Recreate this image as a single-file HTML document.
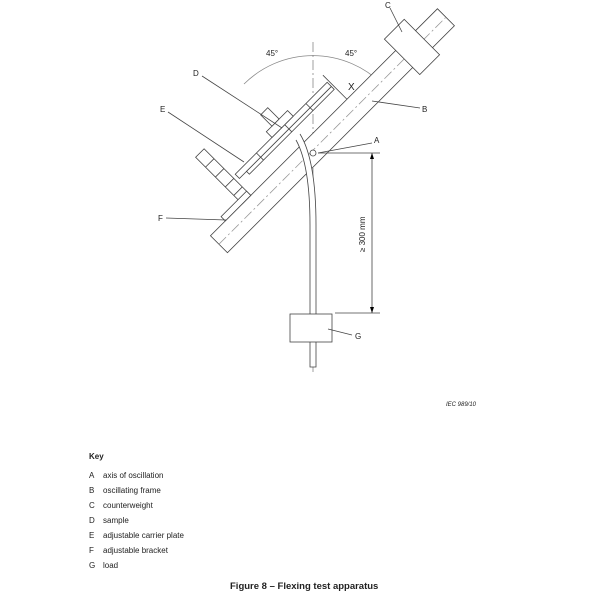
<!DOCTYPE html>
<html><head><style>
body{margin:0;background:#fff;}
svg{display:block;font-family:"Liberation Sans",sans-serif;}
</style></head><body>
<svg width="600" height="600" viewBox="0 0 600 600">
<g stroke="#444" stroke-width="0.8" fill="none">
<line x1="313" y1="42" x2="313" y2="372" stroke-dasharray="10,3,2,3" stroke="#888"/>
<path d="M244,84 A98,98 0 0 1 382,84" stroke="#888"/>
<g transform="translate(313,153) rotate(-45)">
  <rect x="-131" y="-14" width="321" height="24" fill="#fff"/>
  <line x1="-131" y1="-2" x2="190" y2="-2" stroke-dasharray="10,3,2,3" stroke="#999"/>
  <rect x="131" y="-30" width="28" height="50" fill="#fff"/>
  <!-- carrier plate -->
  <rect x="-70" y="-40" width="130" height="6" fill="#fff"/>
  <rect x="-60" y="-34" width="120" height="4" fill="#fff"/>
  <line x1="-40" y1="-40" x2="-40" y2="-30"/>
  <line x1="0" y1="-40" x2="0" y2="-30"/>
  <line x1="30" y1="-40" x2="30" y2="-30"/>
  <!-- sample holder D -->
  <rect x="-18" y="-48" width="30" height="8" fill="#fff"/>
  <rect x="-10" y="-64" width="10" height="16" fill="#fff"/>
  <!-- bracket -->
  <rect x="-86" y="-80" width="12" height="66" fill="#fff"/>
  <line x1="-86" y1="-66" x2="-74" y2="-66"/>
  <line x1="-86" y1="-52" x2="-74" y2="-52"/>
  <line x1="-86" y1="-38" x2="-74" y2="-38"/>
  <line x1="-86" y1="-26" x2="-74" y2="-26"/>
  <rect x="-110" y="-20" width="36" height="6" fill="#fff"/>
  <!-- X dimension -->
  <line x1="62" y1="-48" x2="62" y2="-14"/>
  <circle cx="0" cy="0" r="3" fill="#fff"/>
</g>
<path d="M296,140 Q310,165 310,225 L310,367 L316,367 L316,225 Q316,160 300,134" fill="#fff"/>
<rect x="290" y="314" width="42" height="28" fill="#fff"/>
<line x1="318" y1="153" x2="380" y2="153"/>
<line x1="335" y1="313" x2="380" y2="313"/>
<line x1="372" y1="153" x2="372" y2="313"/>
<line x1="202" y1="76" x2="282" y2="128"/>
<line x1="168" y1="112" x2="244" y2="162"/>
<line x1="166" y1="218" x2="226" y2="220"/>
<line x1="420" y1="108" x2="372" y2="101"/>
<line x1="372" y1="143" x2="318" y2="153"/>
<line x1="390" y1="8" x2="402" y2="32"/>
<line x1="352" y1="335" x2="328" y2="329"/>
</g>
<g fill="#000">
<polygon points="372,153 370,159 374,159"/>
<polygon points="372,313 370,307 374,307"/>
</g>
<g font-size="8" fill="#222">
<text x="266" y="56">45°</text>
<text x="345" y="56">45°</text>
<text x="348" y="90" font-size="10">X</text>
<text x="385" y="8">C</text>
<text x="193" y="76">D</text>
<text x="160" y="112">E</text>
<text x="158" y="221">F</text>
<text x="422" y="112">B</text>
<text x="374" y="143">A</text>
<text x="355" y="339">G</text>
<text x="365" y="252" transform="rotate(-90 365 252)">≥ 300 mm</text>
<text x="446" y="406" font-size="6" font-style="italic">IEC  989/10</text>
<text x="89" y="459" font-weight="bold">Key</text>
<text x="89" y="478">A</text><text x="103" y="478">axis of oscillation</text>
<text x="89" y="493">B</text><text x="103" y="493">oscillating frame</text>
<text x="89" y="508">C</text><text x="103" y="508">counterweight</text>
<text x="89" y="523">D</text><text x="103" y="523">sample</text>
<text x="89" y="538">E</text><text x="103" y="538">adjustable carrier plate</text>
<text x="89" y="553">F</text><text x="103" y="553">adjustable bracket</text>
<text x="89" y="568">G</text><text x="103" y="568">load</text>
<text x="230" y="589" font-size="9.5" font-weight="bold">Figure 8 – Flexing test apparatus</text>
</g>
</svg>
</body></html>
